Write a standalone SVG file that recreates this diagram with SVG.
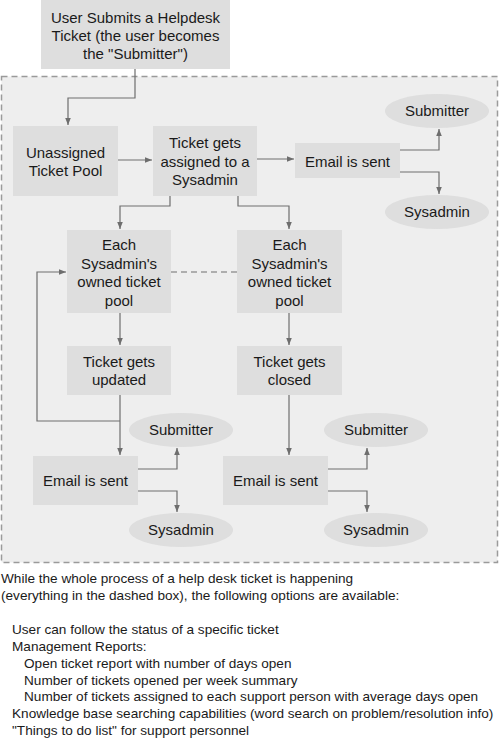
<svg xmlns="http://www.w3.org/2000/svg" width="500" height="738" viewBox="0 0 500 738">
<style>
.box{fill:#dedede;stroke:none}
.ell{fill:#dedede;stroke:none}
.t{font-family:"Liberation Sans",Arial,sans-serif;font-size:15px;fill:#1a1a1a;text-anchor:middle}
.n{font-family:"Liberation Sans",Arial,sans-serif;font-size:13.6px;fill:#1a1a1a}
.c{fill:none;stroke:#6e6e6e;stroke-width:1.2}
</style>
<defs>
<marker id="ah" viewBox="0 0 10 10" refX="10" refY="5" markerWidth="7" markerHeight="7" markerUnits="userSpaceOnUse" orient="auto">
<path d="M0,1 L10,5 L0,9 z" fill="#6e6e6e"/>
</marker>
</defs>
<rect width="500" height="738" fill="#ffffff"/>
<rect id="process-area" x="1.5" y="76.5" width="496" height="486" fill="#eeeeee" stroke="#9a9a9a" stroke-width="1.5" stroke-dasharray="6,4"/>

<g id="connectors">
<path class="c" d="M135,69 V98 H68 V125" marker-end="url(#ah)"/>
<path class="c" d="M118,160 H152" marker-end="url(#ah)"/>
<path class="c" d="M257,159 H294" marker-end="url(#ah)"/>
<path class="c" d="M400,150 H439 V129" marker-end="url(#ah)"/>
<path class="c" d="M400,172 H439 V194" marker-end="url(#ah)"/>
<path class="c" d="M170,196 V206 H120 V229" marker-end="url(#ah)"/>
<path class="c" d="M238,196 V206 H289 V229" marker-end="url(#ah)"/>
<path class="c" d="M171,272 H237" stroke-dasharray="6,4"/>
<path class="c" d="M120,313 V345" marker-end="url(#ah)"/>
<path class="c" d="M289,313 V345" marker-end="url(#ah)"/>
<path class="c" d="M120,395 V455" marker-end="url(#ah)"/>
<path class="c" d="M120,421 H37 V272 H66" marker-end="url(#ah)"/>
<path class="c" d="M138,469 H177 V448" marker-end="url(#ah)"/>
<path class="c" d="M138,491 H177 V512" marker-end="url(#ah)"/>
<path class="c" d="M289,395 V455" marker-end="url(#ah)"/>
<path class="c" d="M328,469 H367 V448" marker-end="url(#ah)"/>
<path class="c" d="M328,491 H367 V512" marker-end="url(#ah)"/>
</g>

<g id="user-submits">
<rect class="box" x="41" y="0" width="189" height="69"/>
<text class="t" x="135.5" y="22.5">User Submits a Helpdesk</text>
<text class="t" x="135.5" y="40.5">Ticket (the user becomes</text>
<text class="t" x="135.5" y="58.5">the "Submitter")</text>
</g>

<g id="unassigned-pool">
<rect class="box" x="13" y="126" width="105" height="70"/>
<text class="t" x="65.5" y="158">Unassigned</text>
<text class="t" x="65.5" y="176">Ticket Pool</text>
</g>

<g id="ticket-assigned">
<rect class="box" x="153" y="126" width="104" height="70"/>
<text class="t" x="205" y="148">Ticket gets</text>
<text class="t" x="205" y="166.5">assigned to a</text>
<text class="t" x="205" y="185">Sysadmin</text>
</g>

<g id="email-top">
<rect class="box" x="295" y="143" width="105" height="35"/>
<text class="t" x="347.5" y="166.5">Email is sent</text>
</g>

<g id="submitter-top">
<ellipse class="ell" cx="437" cy="111" rx="52" ry="17"/>
<text class="t" x="437" y="116">Submitter</text>
</g>

<g id="sysadmin-top">
<ellipse class="ell" cx="437" cy="212" rx="52" ry="17"/>
<text class="t" x="437" y="217">Sysadmin</text>
</g>

<g id="pool-left">
<rect class="box" x="67" y="230" width="104" height="83"/>
<text class="t" x="119" y="250">Each</text>
<text class="t" x="119" y="268.5">Sysadmin's</text>
<text class="t" x="119" y="287">owned ticket</text>
<text class="t" x="119" y="305.5">pool</text>
</g>

<g id="pool-right">
<rect class="box" x="237" y="230" width="105" height="83"/>
<text class="t" x="289.5" y="250">Each</text>
<text class="t" x="289.5" y="268.5">Sysadmin's</text>
<text class="t" x="289.5" y="287">owned ticket</text>
<text class="t" x="289.5" y="305.5">pool</text>
</g>

<g id="ticket-updated">
<rect class="box" x="67" y="346" width="104" height="49"/>
<text class="t" x="119" y="367">Ticket gets</text>
<text class="t" x="119" y="385">updated</text>
</g>

<g id="ticket-closed">
<rect class="box" x="237" y="346" width="105" height="49"/>
<text class="t" x="289.5" y="367">Ticket gets</text>
<text class="t" x="289.5" y="385">closed</text>
</g>

<g id="email-left">
<rect class="box" x="33" y="456" width="105" height="49"/>
<text class="t" x="85.5" y="486">Email is sent</text>
</g>

<g id="submitter-left">
<ellipse class="ell" cx="181" cy="430" rx="52" ry="17"/>
<text class="t" x="181" y="435">Submitter</text>
</g>

<g id="sysadmin-left">
<ellipse class="ell" cx="181" cy="530" rx="52" ry="17"/>
<text class="t" x="181" y="535">Sysadmin</text>
</g>

<g id="email-right">
<rect class="box" x="223" y="456" width="105" height="49"/>
<text class="t" x="275.5" y="486">Email is sent</text>
</g>

<g id="submitter-right">
<ellipse class="ell" cx="376" cy="430" rx="52" ry="17"/>
<text class="t" x="376" y="435">Submitter</text>
</g>

<g id="sysadmin-right">
<ellipse class="ell" cx="376" cy="530" rx="52" ry="17"/>
<text class="t" x="376" y="535">Sysadmin</text>
</g>

<g id="notes">
<text class="n" x="1" y="583">While the whole process of a help desk ticket is happening</text>
<text class="n" x="1" y="600">(everything in the dashed box), the following options are available:</text>
<text class="n" x="12" y="634">User can follow the status of a specific ticket</text>
<text class="n" x="12" y="651">Management Reports:</text>
<text class="n" x="24" y="667.5">Open ticket report with number of days open</text>
<text class="n" x="24" y="684.5">Number of tickets opened per week summary</text>
<text class="n" x="24" y="701">Number of tickets assigned to each support person with average days open</text>
<text class="n" x="12" y="718">Knowledge base searching capabilities (word search on problem/resolution info)</text>
<text class="n" x="12" y="735">"Things to do list" for support personnel</text>
</g>
</svg>
